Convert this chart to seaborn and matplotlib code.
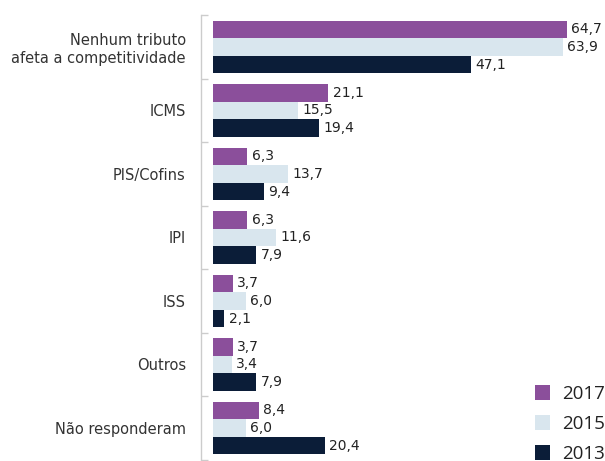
import matplotlib
matplotlib.use("Agg")
import matplotlib.pyplot as plt
import seaborn as sns
import pandas as pd

categories = ["Nenhum tributo\nafeta a competitividade", "ICMS", "PIS/Cofins", "IPI",
              "ISS", "Outros", "Não responderam"]
years = ["2017", "2015", "2013"]
v2017 = [64.7, 21.1, 6.3, 6.3, 3.7, 3.7, 8.4]
v2015 = [63.9, 15.5, 13.7, 11.6, 6.0, 3.4, 6.0]
v2013 = [47.1, 19.4, 9.4, 7.9, 2.1, 7.9, 20.4]
colors = ["#8B4F9B", "#D9E6EE", "#0B1D38"]

rows = []
for y, vals in zip(years, [v2017, v2015, v2013]):
    for c, v in zip(categories, vals):
        rows.append({"cat": c, "val": v, "year": y})
df = pd.DataFrame(rows)

sns.set_style("white")
plt.rcParams["font.family"] = ["DejaVu Sans"]

W, H = 605, 461
fig = plt.figure(figsize=(W / 100, H / 100), dpi=100)
ax_top, ax_bot = 15.2, 459.7
ax = fig.add_axes([213 / W, (H - ax_bot) / H, 383 / W, (ax_bot - ax_top) / H])

sns.barplot(data=df, y="cat", x="val", hue="year", orient="h", order=categories,
            hue_order=years, palette=colors, width=0.83, saturation=1,
            linewidth=0, ax=ax)

ax.set_xlim(0, 70)
ax.set_ylim(6.5, -0.5)
ax.set_xlabel("")
ax.set_ylabel("")
ax.set_xticks([])

for sp in ["top", "right", "bottom"]:
    ax.spines[sp].set_visible(False)
ax.spines["left"].set_position(("outward", 8.6))
ax.spines["left"].set_color("#cccccc")
ax.spines["left"].set_linewidth(1)

ax.set_yticks(range(len(categories)))
ax.set_yticklabels(categories, fontsize=10.5, color="#333333", linespacing=1.25)
ax.tick_params(axis="y", which="major", length=0, pad=11, left=False)
ax.set_yticks([i - 0.5 for i in range(len(categories) + 1)], minor=True)
ax.tick_params(axis="y", which="minor", left=True, length=5, direction="in",
               color="#cccccc", width=1)

for cont, vals in zip(ax.containers, [v2017, v2015, v2013]):
    ax.bar_label(cont, labels=[f"{v:.1f}".replace(".", ",") for v in vals],
                 padding=3, fontsize=10, color="#222222", clip_on=False)

handles, labels = ax.get_legend_handles_labels()
ax.legend(handles, labels, loc="upper left", bbox_to_anchor=(535 / W, (H - 385) / H),
          bbox_transform=fig.transFigure, frameon=False,
          handlelength=0.82, handleheight=0.82, handletextpad=0.62,
          labelspacing=0.64, borderpad=0, borderaxespad=0,
          prop={"family": ["Open Sans", "DejaVu Sans"], "size": 13.5})
for t in ax.get_legend().get_texts():
    t.set_color("#222222")

fig.savefig("out.png", dpi=100)
